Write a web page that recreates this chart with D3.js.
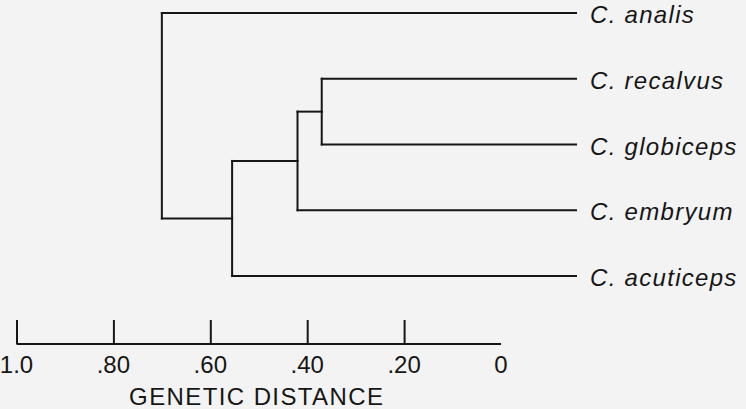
<!DOCTYPE html>
<html>
<head>
<meta charset="utf-8">
<script src="https://cdn.jsdelivr.net/npm/d3@7"></script>
<style>
  html, body { margin: 0; padding: 0; background: #f3f3f3; }
  svg { display: block; }
</style>
</head>
<body>
<svg id="chart" width="746" height="409"></svg>
<script>
// ---- data ----
const species = ["C. analis", "C. recalvus", "C. globiceps", "C. embryum", "C. acuticeps"];
const mergeIds = ["n1", "n2", "n3", "root"];
const mergeChildren = [
  ["C. recalvus", "C. globiceps"],
  ["n1", "C. embryum"],
  ["n2", "C. acuticeps"],
  ["C. analis", "n3"]
];
const mergeDistances = [0.37, 0.42, 0.555, 0.70];
const tickValues = [1.0, 0.8, 0.6, 0.4, 0.2];
const labelValues = [1.0, 0.8, 0.6, 0.4, 0.2, 0];
const tickLabels = ["1.0", ".80", ".60", ".40", ".20", "0"];
const axisTitle = "GENETIC DISTANCE";

// ---- layout ----
const svg = d3.select("#chart");
const ink = "#161616";
const x = d3.scaleLinear().domain([1, 0]).range([16.5, 501]);
const y = d3.scalePoint().domain(species).range([13, 276]);
const leafEnd = x(0) + 75;

// build node table
const nodes = {};
species.forEach(s => { nodes[s] = { id: s, leaf: true, y: y(s), x: leafEnd }; });
mergeIds.forEach((id, i) => {
  const kids = mergeChildren[i].map(k => nodes[k]);
  nodes[id] = { id, leaf: false, kids, dist: mergeDistances[i],
                x: x(mergeDistances[i]), y: d3.mean(kids, k => k.y) };
});

const g = svg.append("g")
  .attr("fill", "none").attr("stroke", ink).attr("stroke-width", 2)
  .attr("stroke-linecap", "square");

mergeIds.forEach(id => {
  const n = nodes[id];
  const ys = n.kids.map(k => k.y);
  g.append("line").attr("x1", n.x).attr("x2", n.x)
    .attr("y1", d3.min(ys)).attr("y2", d3.max(ys));
  n.kids.forEach(k => {
    g.append("line").attr("x1", n.x).attr("x2", k.x)
      .attr("y1", k.y).attr("y2", k.y);
  });
});

// species labels
svg.append("g").selectAll("text").data(species).join("text")
  .attr("x", leafEnd + 14)
  .attr("y", d => y(d) + 10)
  .attr("font-family", "Liberation Sans, Arial, sans-serif")
  .attr("font-style", "italic")
  .attr("font-size", 24)
  .attr("letter-spacing", 1.3)
  .attr("fill", ink)
  .text(d => d);

// axis
const axisY = 344;
const axis = d3.axisTop(x).tickValues(tickValues).tickSize(24).tickFormat("");
const ag = svg.append("g").attr("transform", `translate(0,${axisY})`).call(axis);
ag.select(".domain").attr("d", `M${x(1)},0H${x(0)}`).attr("stroke", ink).attr("stroke-width", 2);
ag.selectAll(".tick line").attr("stroke", ink).attr("stroke-width", 2);

svg.append("g").selectAll("text").data(labelValues).join("text")
  .attr("x", d => x(d))
  .attr("y", 373)
  .attr("text-anchor", "middle")
  .attr("font-family", "Liberation Sans, Arial, sans-serif")
  .attr("font-size", 24)
  .attr("fill", ink)
  .text((d, i) => tickLabels[i]);

svg.append("text")
  .attr("x", (x(1) + x(0)) / 2 - 2)
  .attr("y", 405)
  .attr("text-anchor", "middle")
  .attr("font-family", "Liberation Sans, Arial, sans-serif")
  .attr("font-size", 24)
  .attr("letter-spacing", 1.4)
  .attr("fill", ink)
  .text(axisTitle);
</script>
</body>
</html>
